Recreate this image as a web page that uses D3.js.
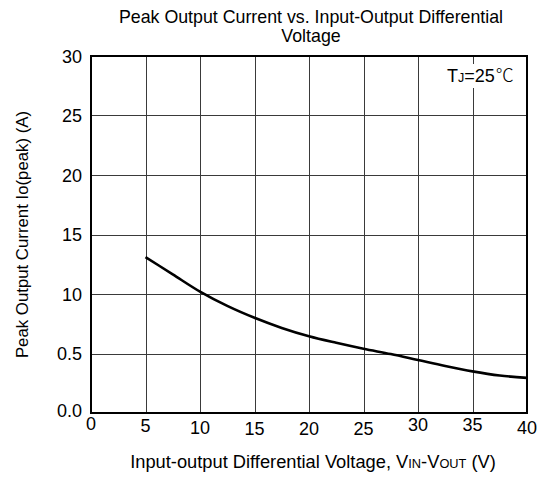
<!DOCTYPE html>
<html>
<head>
<meta charset="utf-8">
<script src="https://cdn.jsdelivr.net/npm/d3@7/dist/d3.min.js"></script>
<style>
  html, body { margin: 0; padding: 0; background: #fff; }
  svg { display: block; font-family: "Liberation Sans", Arial, sans-serif; }
</style>
</head>
<body>
<svg id="chart" width="544" height="478"></svg>
<script>
// ---- data ----
const voltage = [5, 7.5, 10, 12.5, 15, 17.5, 20, 22.5, 25, 27.5, 30, 32.5, 35, 37.5, 40];
const current = [13.1, 11.65, 10.2, 9.0, 8.0, 7.15, 6.45, 5.9, 5.4, 4.95, 4.45, 3.95, 3.5, 3.15, 2.95];
const xTicks = [0, 5, 10, 15, 20, 25, 30, 35, 40];
const yTicks = [0, 5, 10, 15, 20, 25, 30];
const yTickLabels = ["0.0", "0.5", "10", "15", "20", "25", "30"];
const titleLines = ["Peak Output Current vs. Input-Output Differential", "Voltage"];

// ---- layout ----
const svg = d3.select("#chart");
const pL = 91, pR = 527, pT = 56, pB = 413;
const x = d3.scaleLinear().domain([0, 40]).range([pL, pR]);
const y = d3.scaleLinear().domain([0, 30]).range([pB, pT]);

// grid
const grid = svg.append("g");
grid.selectAll("line.v").data(xTicks.slice(1, -1)).join("line")
  .attr("x1", d => Math.round(x(d)) + 0.5).attr("x2", d => Math.round(x(d)) + 0.5)
  .attr("y1", pT).attr("y2", pB)
  .attr("stroke", "#3a3a3a").attr("stroke-width", 1);
grid.selectAll("line.h").data(yTicks.slice(1, -1)).join("line")
  .attr("y1", d => Math.round(y(d)) + 0.5).attr("y2", d => Math.round(y(d)) + 0.5)
  .attr("x1", pL).attr("x2", pR)
  .attr("stroke", "#3a3a3a").attr("stroke-width", 1);

// annotation box (white background interrupts grid)
const ann = svg.append("g");
ann.append("rect").attr("x", 444).attr("y", 64).attr("width", 76).attr("height", 24).attr("fill", "#fff");
const annText = ann.append("text").attr("x", 447).attr("y", 82).attr("font-size", 18).attr("fill", "#000");
annText.append("tspan").text("T");
annText.append("tspan").attr("font-size", 12.5).text("J");
annText.append("tspan").text("=25");
annText.append("tspan").attr("font-family", "'Noto Sans CJK SC', sans-serif").attr("font-size", 18).attr("font-weight", 300).attr("dx", 1).text("℃");

// frame
svg.append("rect").attr("x", pL).attr("y", pT).attr("width", pR - pL).attr("height", pB - pT)
  .attr("fill", "none").attr("stroke", "#000").attr("stroke-width", 2);

// curve
const line = d3.line().x((d, i) => x(voltage[i])).y(d => y(d)).curve(d3.curveMonotoneX);
svg.append("path").datum(current).attr("d", line)
  .attr("fill", "none").attr("stroke", "#000").attr("stroke-width", 2.6);

// x tick labels
const xBase = [430, 431.5, 434, 434.5, 434.5, 435, 430.5, 430.5, 434];
svg.append("g").selectAll("text").data(xTicks).join("text")
  .attr("x", d => x(d))
  .attr("y", (d, i) => xBase[i])
  .attr("text-anchor", "middle").attr("font-size", 18).attr("fill", "#000")
  .text(d => d);

// y tick labels
svg.append("g").selectAll("text").data(yTicks).join("text")
  .attr("x", pL - 9).attr("y", (d, i) => y(d) + 6.5 + (i === 0 ? -3 : 0))
  .attr("text-anchor", "end").attr("font-size", 18).attr("fill", "#000")
  .text((d, i) => yTickLabels[i]);

// title
svg.append("g").selectAll("text").data(titleLines).join("text")
  .attr("x", 311).attr("y", (d, i) => 23 + i * 19)
  .attr("text-anchor", "middle").attr("font-size", 17.8).attr("fill", "#000")
  .text(d => d);

// y axis title
svg.append("text")
  .attr("transform", `translate(28,${(pT + pB) / 2}) rotate(-90)`)
  .attr("text-anchor", "middle").attr("font-size", 16.8).attr("fill", "#000")
  .text("Peak Output Current Io(peak) (A)");

// x axis title
const xt = svg.append("text").attr("x", 313).attr("y", 468)
  .attr("text-anchor", "middle").attr("font-size", 18.3).attr("fill", "#000");
xt.append("tspan").text("Input-output Differential Voltage, V");
xt.append("tspan").attr("font-size", 12.8).text("IN");
xt.append("tspan").text("-V");
xt.append("tspan").attr("font-size", 12.8).text("OUT");
xt.append("tspan").text(" (V)");
</script>
</body>
</html>
